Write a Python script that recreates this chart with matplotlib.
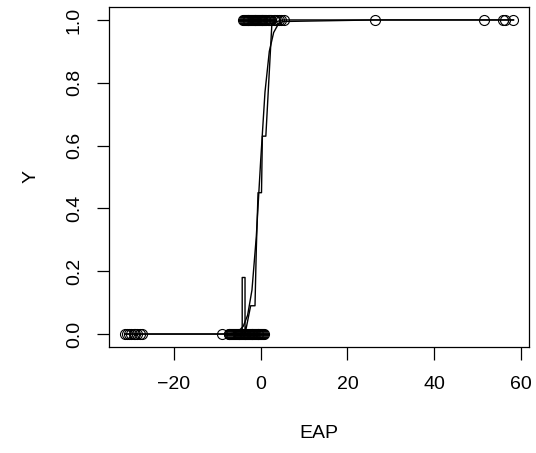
import matplotlib
matplotlib.use('Agg')
import matplotlib.pyplot as plt

plt.rcParams['font.family'] = ['Liberation Sans', 'DejaVu Sans']

# observed points: EAP score and binary response
eap_0 = [-31.3, -30.8, -30.3, -29.8, -29.3, -28.9, -28.4, -27.9, -27.4,
         -9.0,
         -7.4, -7.2, -7.0, -6.8, -6.5, -6.3, -6.1, -5.9, -5.7, -5.5,
         -5.3, -5.1, -4.9, -4.7, -4.5, -4.3, -4.1, -3.9, -3.7, -3.5,
         -3.3, -3.1, -2.9, -2.7, -2.5, -2.3, -2.1, -1.9, -1.7, -1.5,
         -1.3, -1.1, -0.9, -0.7, -0.5, -0.3, -0.1, 0.1, 0.3, 0.5, 0.8]
eap_1 = [-4.0, -3.8, -3.6, -3.4, -3.2, -3.0, -2.8, -2.6, -2.4, -2.2,
         -2.0, -1.8, -1.6, -1.4, -1.2, -1.0, -0.8, -0.6, -0.4, -0.2,
         0.0, 0.2, 0.4, 0.6, 0.8, 1.0, 1.3, 1.6, 1.9, 2.2, 2.5,
         3.0, 3.3, 3.7, 4.2, 4.6, 5.4,
         26.4, 51.5, 55.8, 56.4, 58.3]

# fitted logistic curve
curve_x = [-31.3, -9.0, -7.0, -6.0, -5.0, -4.0, -3.0, -2.0, -1.0, 0.0,
           1.0, 2.0, 3.0, 4.0, 5.0, 26.4, 58.3]
curve_y = [0.0, 0.0, 0.001, 0.004, 0.01, 0.025, 0.06, 0.14, 0.31, 0.55,
           0.77, 0.90, 0.96, 0.985, 0.995, 1.0, 1.0]

# empirical (binned) proportion line
step_x = [-31.3, -4.25, -4.25, -3.6, -3.6, -2.3, -1.3, -1.0, -0.6, 0.2,
          0.4, 1.2, 2.6, 5.0, 58.3]
step_y = [0.0, 0.0, 0.18, 0.18, 0.0, 0.09, 0.09, 0.27, 0.45, 0.45,
          0.63, 0.63, 0.99, 1.0, 1.0]

fig = plt.figure(figsize=(5.36, 4.53), dpi=100)
ax = fig.add_axes([0.2040, 0.2349, 0.7830, 0.7488])

ax.plot(eap_0, [0] * len(eap_0), 'o', mfc='none', mec='black', ms=7.2, mew=0.8)
ax.plot(eap_1, [1] * len(eap_1), 'o', mfc='none', mec='black', ms=7.2, mew=0.8)
ax.plot(curve_x, curve_y, color='black', lw=1.0)
ax.plot(step_x, step_y, color='black', lw=1.0)

ax.margins(x=0.04, y=0.04)
ax.set_xticks([-20, 0, 20, 40, 60])
ax.set_xticklabels(['\u221220', '0', '20', '40', '60'])
ax.set_yticks([0.0, 0.2, 0.4, 0.6, 0.8, 1.0])
ax.set_yticklabels(['0.0', '0.2', '0.4', '0.6', '0.8', '1.0'], rotation=90, va='center')
ax.tick_params(direction='out', length=9, width=0.9, labelsize=14)
ax.tick_params(axis='x', pad=12)
ax.tick_params(axis='y', pad=10)
for s in ax.spines.values():
    s.set_linewidth(0.9)

ax.set_xlabel('EAP', fontsize=14, labelpad=23)
ax.set_ylabel('Y', fontsize=14, labelpad=19)

fig.savefig('out.png', dpi=100)
